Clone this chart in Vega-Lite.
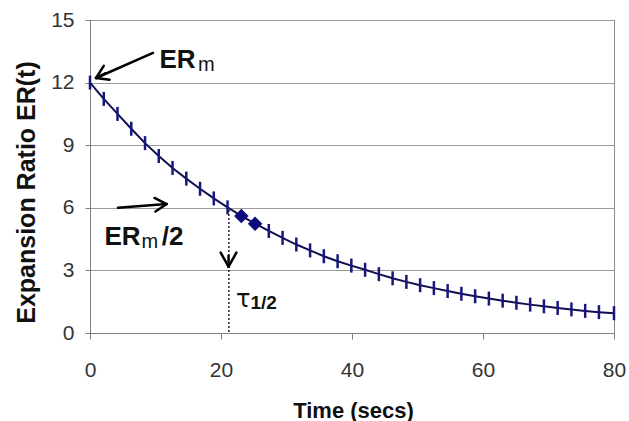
{
  "$schema": "https://vega.github.io/schema/vega-lite/v6.json",
  "width": 524,
  "height": 313,
  "autosize": "none",
  "padding": {"left": 90, "top": 20, "right": 15, "bottom": 88},
  "background": "white",
  "config": {
    "view": {"stroke": "#8a8a8a", "strokeWidth": 1},
    "font": "Liberation Sans"
  },
  "datasets": {
    "curve": [
      {"t": 0, "er": 12.0, "kind": "tick"},
      {"t": 2.1, "er": 11.22, "kind": "tick"},
      {"t": 4.2, "er": 10.5, "kind": "tick"},
      {"t": 6.3, "er": 9.79, "kind": "tick"},
      {"t": 8.4, "er": 9.1, "kind": "tick"},
      {"t": 10.5, "er": 8.48, "kind": "tick"},
      {"t": 12.6, "er": 7.91, "kind": "tick"},
      {"t": 14.7, "er": 7.4, "kind": "tick"},
      {"t": 16.8, "er": 6.91, "kind": "tick"},
      {"t": 18.9, "er": 6.45, "kind": "tick"},
      {"t": 21.0, "er": 6.02, "kind": "tick"},
      {"t": 23.1, "er": 5.61, "kind": "diamond"},
      {"t": 25.2, "er": 5.24, "kind": "diamond"},
      {"t": 27.3, "er": 4.89, "kind": "tick"},
      {"t": 29.4, "er": 4.56, "kind": "tick"},
      {"t": 31.5, "er": 4.24, "kind": "tick"},
      {"t": 33.6, "er": 3.96, "kind": "tick"},
      {"t": 35.7, "er": 3.68, "kind": "tick"},
      {"t": 37.8, "er": 3.44, "kind": "tick"},
      {"t": 39.9, "er": 3.23, "kind": "tick"},
      {"t": 42.0, "er": 3.03, "kind": "tick"},
      {"t": 44.1, "er": 2.82, "kind": "tick"},
      {"t": 46.2, "er": 2.62, "kind": "tick"},
      {"t": 48.3, "er": 2.45, "kind": "tick"},
      {"t": 50.4, "er": 2.29, "kind": "tick"},
      {"t": 52.5, "er": 2.15, "kind": "tick"},
      {"t": 54.6, "er": 2.01, "kind": "tick"},
      {"t": 56.7, "er": 1.88, "kind": "tick"},
      {"t": 58.8, "er": 1.76, "kind": "tick"},
      {"t": 60.9, "er": 1.65, "kind": "tick"},
      {"t": 63.0, "er": 1.55, "kind": "tick"},
      {"t": 65.1, "er": 1.45, "kind": "tick"},
      {"t": 67.2, "er": 1.36, "kind": "tick"},
      {"t": 69.3, "er": 1.28, "kind": "tick"},
      {"t": 71.4, "er": 1.2, "kind": "tick"},
      {"t": 73.5, "er": 1.13, "kind": "tick"},
      {"t": 75.6, "er": 1.06, "kind": "tick"},
      {"t": 77.7, "er": 1.0, "kind": "tick"},
      {"t": 80, "er": 0.95, "kind": "tick"}
    ],
    "arrows": [
      {"t": 9.62, "er": 13.42, "t2": 0.92, "er2": 12.22},
      {"t": 0.92, "er": 12.22, "t2": 3.0, "er2": 12.14},
      {"t": 0.92, "er": 12.22, "t2": 2.1, "er2": 12.8},
      {"t": 0.92, "er": 12.22, "t2": 2.4, "er2": 12.45},
      {"t": 4.27, "er": 6.0, "t2": 11.71, "er2": 6.18},
      {"t": 11.71, "er": 6.18, "t2": 9.85, "er2": 6.47},
      {"t": 11.71, "er": 6.18, "t2": 10.0, "er2": 5.82},
      {"t": 21.15, "er": 3.18, "t2": 19.95, "er2": 3.85},
      {"t": 21.15, "er": 3.18, "t2": 22.35, "er2": 3.85},
      {"t": 21.15, "er": 3.18, "t2": 21.15, "er2": 3.7}
    ],
    "dotted": [
      {"t": 21.2, "er": 5.9, "t2": 21.2, "er2": 0}
    ],
    "bigtext": [
      {"t": 10.6, "er": 12.68, "label": "ER"},
      {"t": 2.2, "er": 4.22, "label": "ER"},
      {"t": 10.95, "er": 4.22, "label": "/2"}
    ],
    "subm": [
      {"t": 16.5, "er": 12.55, "label": "m"},
      {"t": 7.85, "er": 4.08, "label": "m"}
    ],
    "tau": [
      {"t": 22.3, "er": 1.26, "label": "τ"}
    ],
    "half": [
      {"t": 24.5, "er": 1.16, "label": "1/2"}
    ]
  },
  "layer": [
    {
      "data": {"name": "curve"},
      "mark": {"type": "line", "color": "#101050", "strokeWidth": 2},
      "encoding": {
        "x": {
          "field": "t", "type": "quantitative",
          "scale": {"domain": [0, 80], "nice": false, "zero": false},
          "axis": {
            "title": "Time (secs)",
            "values": [0, 20, 40, 60, 80],
            "grid": false,
            "domainColor": "#808080",
            "tickColor": "#808080",
            "tickSize": 6,
            "labelFont": "Liberation Sans",
            "labelFontSize": 21,
            "labelColor": "#333333",
            "labelBaseline": "alphabetic",
            "labelPadding": 37,
            "labelFlush": false,
            "titleFont": "Liberation Sans",
            "titleFontSize": 22,
            "titleFontWeight": "bold",
            "titleColor": "#111111",
            "titleBaseline": "alphabetic",
            "titleY": 84,
            "titleX": 263
          }
        },
        "y": {
          "field": "er", "type": "quantitative",
          "scale": {"domain": [0, 15], "nice": false},
          "axis": {
            "title": "Expansion Ratio ER(t)",
            "values": [0, 3, 6, 9, 12, 15],
            "grid": true,
            "gridColor": "#9a9a9a",
            "gridWidth": 1,
            "domainColor": "#808080",
            "tickColor": "#808080",
            "tickSize": 5,
            "labelFont": "Liberation Sans",
            "labelFontSize": 21,
            "labelColor": "#333333",
            "labelPadding": 11,
            "labelFlush": false,
            "titleFont": "Liberation Sans",
            "titleFontSize": 25,
            "titleFontWeight": "bold",
            "titleColor": "#111111",
            "titleAngle": 270,
            "titleAlign": "center",
            "titleBaseline": "alphabetic",
            "titleX": -56,
            "titleY": 172
          }
        }
      }
    },
    {
      "data": {"name": "curve"},
      "transform": [{"filter": "datum.kind === 'tick'"}],
      "mark": {"type": "point", "shape": "M0,-1L0,1", "size": 196, "filled": false, "stroke": "#16167e", "strokeWidth": 2.5, "opacity": 1},
      "encoding": {
        "x": {"field": "t", "type": "quantitative"},
        "y": {"field": "er", "type": "quantitative"}
      }
    },
    {
      "data": {"name": "curve"},
      "transform": [{"filter": "datum.kind === 'diamond'"}],
      "mark": {"type": "point", "shape": "diamond", "size": 210, "filled": true, "color": "#0c0c7a", "opacity": 1},
      "encoding": {
        "x": {"field": "t", "type": "quantitative"},
        "y": {"field": "er", "type": "quantitative"}
      }
    },
    {
      "data": {"name": "arrows"},
      "mark": {"type": "rule", "color": "#000000", "strokeWidth": 2.5, "strokeCap": "round"},
      "encoding": {
        "x": {"field": "t", "type": "quantitative"},
        "y": {"field": "er", "type": "quantitative"},
        "x2": {"field": "t2"},
        "y2": {"field": "er2"}
      }
    },
    {
      "data": {"name": "dotted"},
      "mark": {"type": "rule", "color": "#000000", "strokeWidth": 1.3, "strokeDash": [2, 2]},
      "encoding": {
        "x": {"field": "t", "type": "quantitative"},
        "y": {"field": "er", "type": "quantitative"},
        "x2": {"field": "t2"},
        "y2": {"field": "er2"}
      }
    },
    {
      "data": {"name": "bigtext"},
      "mark": {"type": "text", "font": "Liberation Sans", "fontSize": 26, "fontWeight": "bold", "color": "#111111", "align": "left", "baseline": "alphabetic"},
      "encoding": {
        "x": {"field": "t", "type": "quantitative"},
        "y": {"field": "er", "type": "quantitative"},
        "text": {"field": "label"}
      }
    },
    {
      "data": {"name": "subm"},
      "mark": {"type": "text", "font": "Liberation Sans", "fontSize": 20, "color": "#111111", "align": "left", "baseline": "alphabetic"},
      "encoding": {
        "x": {"field": "t", "type": "quantitative"},
        "y": {"field": "er", "type": "quantitative"},
        "text": {"field": "label"}
      }
    },
    {
      "data": {"name": "tau"},
      "mark": {"type": "text", "font": "DejaVu Sans", "fontSize": 24, "color": "#111111", "align": "left", "baseline": "alphabetic"},
      "encoding": {
        "x": {"field": "t", "type": "quantitative"},
        "y": {"field": "er", "type": "quantitative"},
        "text": {"field": "label"}
      }
    },
    {
      "data": {"name": "half"},
      "mark": {"type": "text", "font": "Liberation Sans", "fontSize": 19, "fontWeight": "bold", "color": "#111111", "align": "left", "baseline": "alphabetic"},
      "encoding": {
        "x": {"field": "t", "type": "quantitative"},
        "y": {"field": "er", "type": "quantitative"},
        "text": {"field": "label"}
      }
    }
  ]
}
